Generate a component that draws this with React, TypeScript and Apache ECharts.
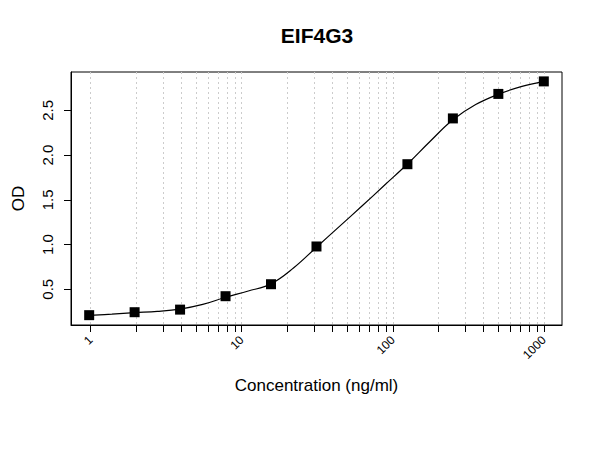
import React, { useEffect, useRef } from "react";
import * as echarts from "echarts";

// Measured standards (concentration in ng/ml, OD)
const concentrations = [0.977, 1.953, 3.906, 7.8125, 15.625, 31.25, 125, 250, 500, 1000];
const odValues = [0.21, 0.243, 0.272, 0.422, 0.556, 0.978, 1.898, 2.41, 2.684, 2.824];

// Fitted curve
const curveX = [0.977, 1.381, 1.953, 2.76, 3.906, 5.52, 7.8125, 11.05, 15.625, 22.1, 31.25, 44.2, 62.5, 88.4, 125, 177, 250, 354, 500, 707, 1000];
const curveY = [0.207, 0.222, 0.238, 0.252, 0.278, 0.33, 0.41, 0.48, 0.56, 0.74, 0.97, 1.2, 1.43, 1.665, 1.9, 2.155, 2.395, 2.565, 2.68, 2.765, 2.825];

// Axis ticks and labels
const xTickValues = [1, 2, 3, 4, 5, 6, 7, 8, 9, 10, 20, 30, 40, 50, 60, 70, 80, 90, 100, 200, 300, 400, 500, 600, 700, 800, 900, 1000];
const xLabelValues = [1, 10, 100, 1000];
const yTickValues = [0.5, 1.0, 1.5, 2.0, 2.5];

const X_MIN = 0.7405;
const X_MAX = 1319.6;
const Y_MIN = 0.1;
const Y_MAX = 2.929;

const FONT = "'Liberation Sans', Arial, Helvetica, sans-serif";

export default function App() {
  const ref = useRef<HTMLDivElement>(null);

  useEffect(() => {
    document.body.style.margin = "0";
    if (!ref.current) return;
    const chart = echarts.init(ref.current, null, { renderer: "svg" });
    chart.setOption({
      animation: false,
      backgroundColor: "#ffffff",
      textStyle: { fontFamily: FONT },
      graphic: [
        {
          type: "text",
          x: 317,
          y: 25,
          style: {
            text: "EIF4G3",
            font: `bold 21px ${FONT}`,
            fill: "#000",
            textAlign: "center",
            textVerticalAlign: "top",
          },
        },
      ],
      grid: {
        left: 71,
        right: 38,
        top: 72,
        bottom: 125,
        show: true,
        borderColor: "#000",
        borderWidth: 1,
        backgroundColor: "transparent",
      },
      xAxis: {
        type: "log",
        logBase: 10,
        min: X_MIN,
        max: X_MAX,
        axisLine: { show: true, onZero: false, lineStyle: { color: "#000", width: 1 } },
        axisTick: {
          show: true,
          length: 7,
          customValues: xTickValues,
          lineStyle: { color: "#000", width: 1 },
        },
        axisLabel: {
          customValues: xLabelValues,
          rotate: 45,
          margin: 13,
          fontSize: 12,
          color: "#000",
          fontFamily: FONT,
          formatter: (v: number) => String(Math.round(v)),
        },
        splitLine: {
          show: true,
          lineStyle: { color: "#cccccc", width: 1, type: [2, 3] },
        },
        name: "Concentration (ng/ml)",
        nameLocation: "middle",
        nameGap: 52,
        nameTextStyle: { fontSize: 17, color: "#000", fontFamily: FONT },
      },
      yAxis: {
        type: "value",
        min: Y_MIN,
        max: Y_MAX,
        axisLine: { show: true, onZero: false, lineStyle: { color: "#000", width: 1 } },
        axisTick: {
          show: true,
          length: 7,
          customValues: yTickValues,
          lineStyle: { color: "#000", width: 1 },
        },
        axisLabel: {
          customValues: yTickValues,
          rotate: 90,
          margin: 16,
          fontSize: 15,
          color: "#000",
          fontFamily: FONT,
          formatter: (v: number) => v.toFixed(1),
        },
        splitLine: { show: false },
        name: "OD",
        nameLocation: "middle",
        nameGap: 44,
        nameTextStyle: { fontSize: 17, color: "#000", fontFamily: FONT },
      },
      series: [
        {
          type: "line",
          data: curveX.map((x, i) => [x, curveY[i]]),
          smooth: 0.4,
          showSymbol: false,
          symbol: "none",
          lineStyle: { color: "#000", width: 1.2 },
          silent: true,
          z: 2,
        },
        {
          type: "scatter",
          data: concentrations.map((x, i) => [x, odValues[i]]),
          symbol: "rect",
          symbolSize: 10,
          itemStyle: { color: "#000", opacity: 1 },
          z: 3,
        },
      ],
    });
    return () => chart.dispose();
  }, []);

  return <div ref={ref} style={{ width: 600, height: 450 }} />;
}
